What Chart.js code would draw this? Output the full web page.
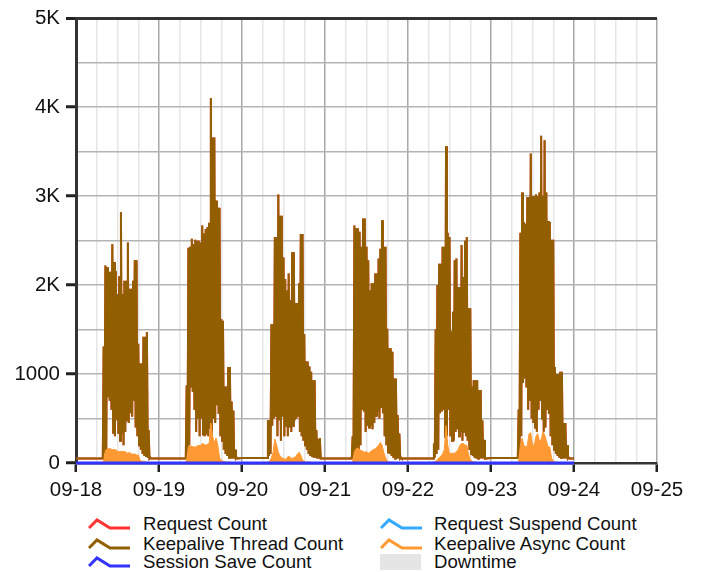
<!DOCTYPE html>
<html>
<head>
<meta charset="utf-8">
<script src="https://cdn.jsdelivr.net/npm/chart.js@4"></script>
<style>
  body { margin: 0; background: #fff; font-family: "Liberation Sans", Arial, sans-serif; color: #111; }
  #wrap { position: relative; width: 701px; height: 572px; overflow: hidden; }
  #chart { position: absolute; left: 0; top: 0; }
  .legend-item { position: absolute; font-size: 18.6px; line-height: 20px; white-space: nowrap; }
  .legend-icon { position: absolute; }
</style>
</head>
<body>
<div id="wrap">
  <canvas id="chart" width="701" height="510"></canvas>
  <div id="legend"></div>
</div>
<script>
// hours from 09-18 00:00, x ticks every 6h, labels at midnights
const xTickHours = [0, 24, 48, 72, 96, 120, 144, 168]
const xTickLabels = ['09-18', '09-19', '09-20', '09-21', '09-22', '09-23', '09-24', '09-25']
const yTickValues = [0, 1000, 2000, 3000, 4000, 5000]
const yTickLabels = ['0', '1000', '2K', '3K', '4K', '5K']

// daytime clusters, one sample per 30 min starting at clusterStart (hour of day)
const clusterStart = [8.0, 8.0, 7.5, 8.0, 7.5, 8.0]

const threadHigh18 = [1310, 2220, 2200, 2150, 2150, 2460, 2260, 2160, 1900, 2100, 2820, 1900, 2050, 2050, 2480, 1960, 1960, 2050, 2280, 2280, 1340, 1120, 1120, 1420, 1420, 1470, 370, 60]
const threadLow18 = [100, 150, 740, 700, 600, 330, 300, 480, 330, 250, 330, 200, 350, 480, 450, 560, 520, 700, 400, 300, 200, 150, 100, 80, 80, 60, 50, 50]
const async18 = [20, 140, 160, 160, 160, 150, 150, 150, 130, 130, 130, 130, 130, 120, 110, 120, 100, 100, 100, 90, 90, 30, 20, 20, 10, 10, 5, 5]

const threadHigh19 = [870, 2420, 2430, 2520, 2460, 2510, 2500, 2500, 2480, 2670, 2580, 2630, 2650, 2700, 4100, 3660, 3660, 2950, 2870, 2870, 1620, 1600, 860, 860, 1080, 1080, 690, 590, 150, 60]
const threadLow19 = [100, 200, 850, 800, 600, 350, 500, 300, 500, 320, 300, 320, 300, 400, 250, 500, 450, 650, 550, 300, 250, 150, 100, 80, 60, 50, 50, 50, 50, 50]
const async19 = [30, 180, 190, 190, 180, 180, 190, 200, 190, 220, 210, 200, 210, 220, 450, 300, 230, 280, 200, 60, 30, 20, 15, 10, 10, 10, 5, 5, 5, 5]

const threadHigh20 = [480, 480, 1560, 1560, 2540, 2540, 3020, 2780, 2780, 2310, 2070, 1940, 2130, 1830, 2370, 2370, 1800, 1800, 2020, 2575, 2575, 1450, 1140, 1140, 1085, 1025, 930, 930, 370, 270, 280]
const threadLow20 = [80, 100, 420, 500, 520, 300, 480, 250, 520, 300, 420, 300, 400, 350, 420, 480, 500, 520, 350, 300, 250, 200, 150, 100, 80, 80, 60, 60, 50, 50, 50]
const async20 = [10, 20, 60, 120, 270, 200, 120, 80, 60, 50, 40, 60, 80, 60, 50, 60, 70, 100, 120, 90, 30, 20, 10, 10, 10, 5, 5, 5, 5, 5, 5]

const threadHigh21 = [300, 2670, 2640, 2640, 2600, 2430, 2750, 2750, 2430, 2280, 1940, 2020, 2020, 2130, 2130, 2300, 2410, 2730, 2430, 2430, 1510, 1290, 1290, 1250, 950, 950, 540, 330, 60]
const threadLow21 = [80, 100, 150, 120, 200, 600, 580, 350, 420, 400, 420, 380, 450, 530, 580, 500, 620, 560, 300, 200, 120, 100, 80, 60, 50, 50, 50, 50, 50]
const async21 = [10, 130, 160, 170, 150, 140, 130, 120, 130, 110, 120, 140, 150, 160, 180, 200, 230, 200, 120, 60, 20, 10, 10, 10, 5, 5, 5, 5, 5]

const threadHigh22 = [220, 1500, 2000, 2240, 2240, 2430, 2430, 3560, 2590, 2540, 1480, 1700, 2280, 2300, 1980, 1980, 2450, 2090, 2500, 2540, 1740, 1740, 860, 930, 930, 930, 820, 820, 480, 260]
const threadLow22 = [60, 100, 150, 560, 580, 600, 280, 300, 600, 300, 250, 250, 350, 380, 300, 350, 250, 340, 300, 250, 150, 100, 80, 60, 50, 50, 50, 50, 50, 50]
const async22 = [10, 20, 40, 60, 80, 100, 150, 420, 200, 100, 110, 110, 110, 130, 150, 200, 220, 220, 200, 200, 100, 40, 20, 10, 10, 5, 5, 5, 5, 5]

const threadHigh23 = [600, 2590, 3040, 2710, 2690, 2990, 2990, 3480, 3000, 3000, 3020, 3000, 3040, 3680, 3000, 3630, 3040, 2720, 2710, 2510, 2510, 1080, 1000, 1000, 1025, 1025, 450, 450, 200, 60]
const threadLow23 = [100, 300, 900, 950, 850, 600, 700, 500, 450, 400, 350, 600, 700, 500, 350, 400, 600, 550, 300, 200, 150, 100, 80, 60, 60, 50, 50, 50, 50, 50]
const async23 = [20, 200, 280, 200, 180, 200, 330, 340, 200, 200, 300, 330, 250, 260, 350, 320, 250, 180, 180, 60, 20, 10, 10, 5, 5, 5, 5, 5, 5, 5]

// overnight levels (before each cluster, and after the last one)
const nightThread = [50, 50, 55, 50, 50, 55, 50]
const nightAsync = [5, 5, 5, 5, 5, 5, 5]

// flat series
const flatHours = [0, 144]
const sessionSave = [0, 0]
const requestSuspend = [0, 0]

const COLORS = {
  request: '#ff3333',
  thread: '#915f00',
  session: '#3333ff',
  suspend: '#33aaff',
  async: '#ff9933',
  downtime: '#e5e5e5',
}

const threadHighs = [threadHigh18, threadHigh19, threadHigh20, threadHigh21, threadHigh22, threadHigh23]
const threadLows = [threadLow18, threadLow19, threadLow20, threadLow21, threadLow22, threadLow23]
const asyncs = [async18, async19, async20, async21, async22, async23]

function buildThread() {
  const pts = []
  threadHighs.forEach((highs, d) => {
    const t0 = d * 24
    pts.push({ x: t0, y: nightThread[d] })
    pts.push({ x: t0 + clusterStart[d] - 0.25, y: nightThread[d] })
    highs.forEach((h, i) => {
      const t = t0 + clusterStart[d] + i * 0.5
      pts.push({ x: t, y: h })
      pts.push({ x: t + 0.25, y: threadLows[d][i] })
    })
  })
  pts.push({ x: 144, y: nightThread[6] })
  return pts
}

function buildAsync() {
  const pts = []
  asyncs.forEach((vals, d) => {
    const t0 = d * 24
    pts.push({ x: t0, y: nightAsync[d] })
    pts.push({ x: t0 + clusterStart[d] - 0.5, y: nightAsync[d] })
    vals.forEach((v, i) => pts.push({ x: t0 + clusterStart[d] + i * 0.5, y: v }))
  })
  pts.push({ x: 144, y: nightAsync[6] })
  return pts
}

const flat = vals => flatHours.map((h, i) => ({ x: h, y: vals[i] }))

const threadPts = buildThread()
const FONT = { family: '"Liberation Sans", Arial, sans-serif', size: 20.5 }

const line = (label, data, color, width, order, extra) => Object.assign({
  label, data, borderColor: color, backgroundColor: color, borderWidth: width,
  pointRadius: 0, tension: 0, fill: false, order, clip: false,
}, extra || {})

new Chart(document.getElementById('chart'), {
  type: 'line',
  data: {
    datasets: [
      line('Session Save Count', flat(sessionSave), COLORS.session, 3, 0),
      line('Request Suspend Count', flat(requestSuspend), COLORS.suspend, 2, 1),
      line('Keepalive Async Count', buildAsync(), COLORS.async, 1, 2, { fill: 'origin' }),
      line('Keepalive Thread Count', threadPts, COLORS.thread, 2, 3),
      line('Request Count', threadPts, COLORS.request, 2, 4),
    ],
  },
  options: {
    responsive: false,
    animation: false,
    events: [],
    layout: { padding: { top: 17, right: 44, left: 0, bottom: 0 } },
    plugins: { legend: { display: false }, tooltip: { enabled: false } },
    scales: {
      x: {
        type: 'linear', min: 0, max: 168,
        afterFit: s => { s.height = 47 },
        ticks: {
          stepSize: 6, autoSkip: false, maxRotation: 0, padding: 6, color: '#111', font: FONT,
          callback: v => { const i = xTickHours.indexOf(v); return i >= 0 ? xTickLabels[i] : '' },
        },
        grid: {
          color: c => c.tick.value === 0 ? '#333' : (c.tick.value % 24 === 0 ? '#a8a8a8' : '#e6e6e6'),
          lineWidth: 1.5,
          tickColor: c => c.tick.value % 24 === 0 ? '#222' : 'rgba(0,0,0,0)',
          tickLength: 9, tickWidth: 2.5,
        },
        border: { color: '#333', width: 2.5 },
      },
      y: {
        min: 0, max: 5000,
        afterFit: s => { s.width = 76 },
        ticks: {
          stepSize: 500, autoSkip: false, padding: 6, color: '#111', font: FONT,
          callback: v => { const i = yTickValues.indexOf(v); return i >= 0 ? yTickLabels[i] : '' },
        },
        grid: {
          color: c => c.tick.value === 5000 ? '#333' : '#b4b4b4',
          lineWidth: c => c.tick.value === 5000 ? 3 : 1.5,
          tickColor: c => c.tick.value % 1000 === 0 ? '#222' : 'rgba(0,0,0,0)',
          tickLength: 10, tickWidth: 3,
        },
        border: { color: '#333', width: 3 },
      },
    },
  },
})

// legend, two columns like the original
const legendItems = [
  { label: 'Request Count', color: COLORS.request, col: 0, row: 0 },
  { label: 'Keepalive Thread Count', color: COLORS.thread, col: 0, row: 1 },
  { label: 'Session Save Count', color: COLORS.session, col: 0, row: 2 },
  { label: 'Request Suspend Count', color: COLORS.suspend, col: 1, row: 0 },
  { label: 'Keepalive Async Count', color: COLORS.async, col: 1, row: 1 },
  { label: 'Downtime', color: COLORS.downtime, col: 1, row: 2, box: true },
]
const colIcon = [88, 380], colText = [143, 434], rowTop = [514, 534, 552]
const legend = document.getElementById('legend')
legendItems.forEach(it => {
  const icon = it.box
    ? `<div class="legend-icon" style="left:${colIcon[it.col]}px;top:${rowTop[it.row] + 2}px;width:41px;height:16px;background:${it.color}"></div>`
    : `<svg class="legend-icon" style="left:${colIcon[it.col]}px;top:${rowTop[it.row] + 2}px" width="43" height="16"><polyline points="1,12 9,4 22,12 42,12" fill="none" stroke="${it.color}" stroke-width="3"/></svg>`
  legend.insertAdjacentHTML('beforeend', icon +
    `<div class="legend-item" style="left:${colText[it.col]}px;top:${rowTop[it.row]}px">${it.label}</div>`)
})
</script>
</body>
</html>
